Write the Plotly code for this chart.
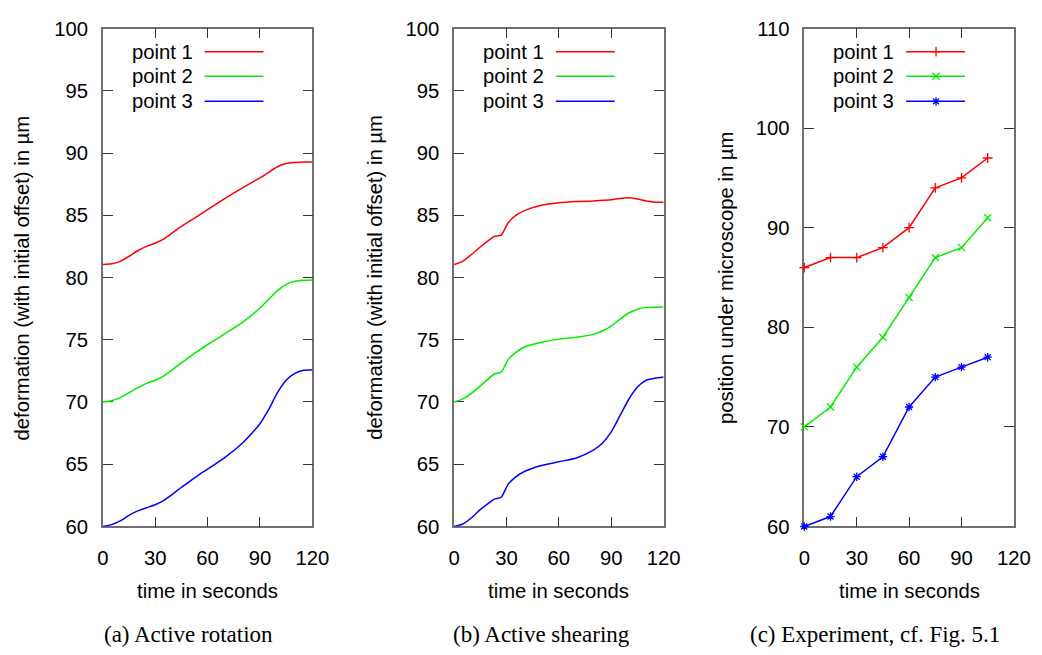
import plotly.graph_objects as go

# ---------------- data ----------------
T_ROT = [0, 5, 10, 15, 20, 25, 30, 35, 40, 45, 50, 55, 60, 70, 80, 90, 95, 100, 105, 110, 115, 120]
ROT_P1 = [81.05, 81.1, 81.3, 81.7, 82.15, 82.5, 82.75, 83.1, 83.6, 84.1, 84.55, 85.0, 85.45, 86.35, 87.2, 88.0, 88.45, 88.9, 89.15, 89.23, 89.27, 89.27]
ROT_P2 = [70.0, 70.1, 70.35, 70.75, 71.15, 71.5, 71.75, 72.1, 72.6, 73.15, 73.65, 74.15, 74.6, 75.5, 76.4, 77.55, 78.25, 78.95, 79.45, 79.7, 79.78, 79.8]
ROT_P3 = [60.0, 60.15, 60.45, 60.9, 61.25, 61.5, 61.75, 62.1, 62.6, 63.15, 63.65, 64.15, 64.6, 65.55, 66.7, 68.25, 69.4, 70.75, 71.75, 72.3, 72.55, 72.6]

T_SHR = [0, 5, 10, 15, 20, 23, 27, 31, 35, 40, 50, 60, 70, 80, 85, 90, 95, 100, 105, 110, 115, 120]
SHR_P1 = [81.05, 81.3, 81.85, 82.45, 83.0, 83.3, 83.4, 84.4, 84.95, 85.35, 85.8, 86.0, 86.1, 86.15, 86.2, 86.25, 86.35, 86.4, 86.3, 86.15, 86.05, 86.05]
SHR_P2 = [70.0, 70.25, 70.7, 71.3, 71.9, 72.25, 72.4, 73.4, 73.95, 74.4, 74.8, 75.05, 75.2, 75.45, 75.7, 76.1, 76.65, 77.15, 77.45, 77.6, 77.62, 77.63]
SHR_P3 = [60.0, 60.2, 60.7, 61.35, 61.9, 62.2, 62.35, 63.4, 63.95, 64.4, 64.9, 65.2, 65.5, 66.15, 66.7, 67.6, 68.9, 70.2, 71.2, 71.75, 71.9, 72.0]

T_EXP = [0, 15, 30, 45, 60, 75, 90, 105]
EXP_P1 = [86, 87, 87, 88, 90, 94, 95, 97]
EXP_P2 = [70, 72, 76, 79, 83, 87, 88, 91]
EXP_P3 = [60, 61, 65, 67, 72, 75, 76, 77]

SERIES_NAMES = ["point 1", "point 2", "point 3"]
COLORS = ["#ff0000", "#00ee00", "#0000ff"]
SYMBOLS = ["cross-thin-open", "x-thin-open", "asterisk-open"]

X_TICKS = [0, 30, 60, 90, 120]
Y_TICKS_AB = [60, 65, 70, 75, 80, 85, 90, 95, 100]
Y_TICKS_C = [60, 70, 80, 90, 100, 110]

Y_TITLE_AB = "deformation (with initial offset) in µm"
Y_TITLE_C = "position under microscope in µm"
X_TITLE = "time in seconds"
CAPTIONS = ["(a) Active rotation", "(b) Active shearing", "(c) Experiment, cf. Fig. 5.1"]

# ---------------- layout helpers ----------------
W, H = 1042, 655
# measured mapping of the rendered page onto the returned picture
SX, BX = 0.980, 4.0
SY, BY = 0.982, 0.2
def px(x):
    return ((x - BX) / SX) / W
def py(y):
    return 1 - ((y - BY) / SY) / H

PANEL_LEFT = [101, 453, 804]
PANEL_W = 210
TOP, BOTTOM = 18, 524
FONT = "Liberation Sans, Arial, sans-serif"
FS = 20.3

fig = go.Figure()

panels = [
    (T_ROT, [ROT_P1, ROT_P2, ROT_P3], False),
    (T_SHR, [SHR_P1, SHR_P2, SHR_P3], False),
    (T_EXP, [EXP_P1, EXP_P2, EXP_P3], True),
]

for i, (t, ys, markers) in enumerate(panels):
    xa = "x" if i == 0 else f"x{i+1}"
    ya = "y" if i == 0 else f"y{i+1}"
    for k, yv in enumerate(ys):
        if markers:
            fig.add_trace(go.Scatter(
                x=t, y=yv, xaxis=xa, yaxis=ya, mode="lines+markers",
                line=dict(color=COLORS[k], width=1.5),
                marker=dict(symbol=SYMBOLS[k], size=7, color=COLORS[k],
                            line=dict(color=COLORS[k], width=1.3)),
                name=SERIES_NAMES[k], showlegend=False, cliponaxis=False))
        else:
            fig.add_trace(go.Scatter(
                x=t, y=yv, xaxis=xa, yaxis=ya, mode="lines",
                line=dict(color=COLORS[k], width=1.5, shape="spline", smoothing=0.6),
                name=SERIES_NAMES[k], showlegend=False))

axis_common = dict(
    showgrid=False, zeroline=False, showline=True, linecolor="#707070", linewidth=1.5,
    mirror="allticks", ticks="inside", ticklen=10, tickwidth=1.2, tickcolor="#333333",
    tickfont=dict(family=FONT, size=FS, color="black"), layer="below traces",
    ticklabeloverflow="allow",
)

layout = dict(
    width=W, height=H, margin=dict(l=0, r=0, t=0, b=0),
    paper_bgcolor="white", plot_bgcolor="rgba(0,0,0,0)", showlegend=False,
    font=dict(family=FONT, size=FS, color="black"),
)
for i in range(3):
    sx = "xaxis" if i == 0 else f"xaxis{i+1}"
    sy = "yaxis" if i == 0 else f"yaxis{i+1}"
    anchor_y = "y" if i == 0 else f"y{i+1}"
    anchor_x = "x" if i == 0 else f"x{i+1}"
    left = PANEL_LEFT[i]
    layout[sx] = dict(axis_common, domain=[px(left), px(left + PANEL_W)], anchor=anchor_y,
                      range=[0, 120], tickvals=X_TICKS, ticklabelstandoff=12)
    yt = Y_TICKS_C if i == 2 else Y_TICKS_AB
    layout[sy] = dict(axis_common, domain=[py(BOTTOM), py(TOP)], anchor=anchor_x,
                      range=[yt[0], yt[-1]], tickvals=yt, ticklabelstandoff=9)

# hidden overlay axis in picture-pixel units for the legend markers
layout["xaxis4"] = dict(domain=[0, 1], range=[BX, BX + SX * W], visible=False, anchor="y4")
layout["yaxis4"] = dict(domain=[0, 1], range=[BY + SY * H, BY], visible=False, anchor="x4")
fig.update_layout(**layout)

annotations = []
shapes = []
Y_TITLE_X = [20, 373, 725]
CAPTION_X = [187, 541, 875]
CAPTION_Y = 634
LEG_ROWS = [41.5, 66.5, 92]
for i in range(3):
    left = PANEL_LEFT[i]
    mid = left + PANEL_W / 2
    annotations.append(dict(
        x=px(Y_TITLE_X[i]), y=py((TOP + BOTTOM) / 2), xref="paper", yref="paper",
        text=Y_TITLE_C if i == 2 else Y_TITLE_AB, textangle=-90, showarrow=False,
        xanchor="center", yanchor="middle", font=dict(family=FONT, size=FS)))
    annotations.append(dict(
        x=px(mid), y=py(590), xref="paper", yref="paper", text=X_TITLE,
        showarrow=False, xanchor="center", yanchor="middle", font=dict(family=FONT, size=FS)))
    annotations.append(dict(
        x=px(CAPTION_X[i]), y=py(CAPTION_Y), xref="paper", yref="paper", text=CAPTIONS[i],
        showarrow=False, xanchor="center", yanchor="middle",
        font=dict(family="Liberation Serif, Times New Roman, serif", size=23)))
    for k in range(3):
        ry = LEG_ROWS[k]
        annotations.append(dict(
            x=px(left + 92), y=py(ry), xref="paper", yref="paper", text=SERIES_NAMES[k],
            showarrow=False, xanchor="right", yanchor="middle", font=dict(family=FONT, size=FS)))
        shapes.append(dict(
            type="line", xref="paper", yref="paper",
            x0=px(left + 102), x1=px(left + 161), y0=py(ry), y1=py(ry),
            line=dict(color=COLORS[k], width=1.5)))
        if i == 2:
            fig.add_trace(go.Scatter(
                x=[left + 132], y=[ry], xaxis="x4", yaxis="y4", mode="markers",
                marker=dict(symbol=SYMBOLS[k], size=7, color=COLORS[k],
                            line=dict(color=COLORS[k], width=1.3)),
                showlegend=False, hoverinfo="skip"))

fig.update_layout(annotations=annotations, shapes=shapes)
fig.write_html("out.html")
